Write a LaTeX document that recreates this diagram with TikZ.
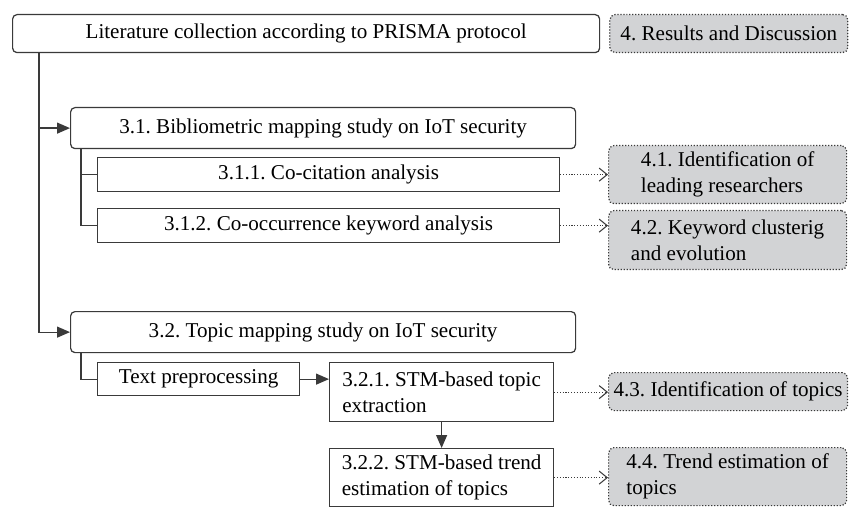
\documentclass[tikz,border=0pt]{standalone}
\usepackage{fontspec}
\setmainfont{Liberation Serif}
\usepackage{tikz}
\usetikzlibrary{arrows.meta, positioning, calc}
\frenchspacing
\definecolor{linegray}{HTML}{3A3A3A}
\definecolor{boxgray}{HTML}{D2D3D5}
\tikzstyle{block} = [rectangle, draw=linegray, line width=0.7pt, fill=white, align=left, inner sep=1mm, anchor=north west]
\tikzstyle{roundblock} = [block, rounded corners=2.5pt, align=center]
\tikzstyle{result} = [rectangle, rounded corners=3pt, draw=linegray, densely dotted, line width=0.7pt, fill=boxgray, align=left, inner sep=1mm, anchor=north west, minimum width=4.76cm]
\tikzstyle{arrow} = [draw=linegray, line width=0.7pt, -{Triangle[length=2.6mm, width=2.2mm]}]
\tikzstyle{line} = [draw=linegray, line width=0.7pt]
\tikzstyle{dotarrow} = [draw=linegray, line width=0.6pt, densely dotted, -{Straight Barb[length=1.6mm, width=2.6mm]}]

\begin{document}
\begin{tikzpicture}[every node/.style={font=\fontsize{12}{15}\selectfont}]
  \useasboundingbox (0,0) rectangle (17.04,-10.14);
  % Khung chính
  \node[roundblock, minimum width=11.74cm, minimum height=0.76cm] (lit) at (0.24,-0.28) {Literature collection according to PRISMA protocol};
  \node[result, minimum height=0.76cm, align=center, right=0.18cm of lit] (r4) {4. Results and Discussion};

  % Nhánh 3.1
  \node[roundblock, minimum width=10.10cm, minimum height=0.82cm] (b31) at (1.40,-2.14) {3.1. Bibliometric mapping study on IoT security};
  \node[block, align=center, minimum width=9.24cm, minimum height=0.68cm] (b311) at (1.94,-3.14) {3.1.1. Co-citation analysis};
  \node[block, align=center, minimum width=9.24cm, minimum height=0.68cm] (b312) at (1.94,-4.16) {3.1.2. Co-occurrence keyword analysis};
  \node[result, minimum height=1.16cm] (r41) at (12.16,-2.90) {4.1. Identification of\\leading researchers};
  \node[result, minimum height=1.18cm] (r42) at (12.16,-4.20) {4.2. Keyword clusterig\\and evolution};

  % Nhánh 3.2
  \node[roundblock, minimum width=10.10cm, minimum height=0.82cm] (b32) at (1.40,-6.22) {3.2. Topic mapping study on IoT security};
  \node[block, align=center, minimum width=4.04cm, minimum height=0.66cm] (tp) at (1.94,-7.24) {Text preprocessing};
  \node[block, minimum width=4.48cm, minimum height=1.18cm] (b321) at (6.58,-7.24) {3.2.1. STM-based topic\\extraction};
  \node[block, minimum width=4.48cm, minimum height=1.16cm] (b322) at (6.58,-8.96) {3.2.2. STM-based trend\\estimation of topics};
  \node[result, minimum height=0.76cm, align=center] (r43) at (12.16,-7.44) {4.3. Identification of topics};
  \node[result, minimum height=1.16cm] (r44) at (12.16,-8.94) {4.4. Trend estimation of\\topics};

  % Mũi tên trục chính
  \draw[arrow] ([xshift=0.54cm]lit.south west) |- (b31.west);
  \draw[arrow] ([xshift=0.54cm]lit.south west) |- (b32.west);

  % Nhánh con
  \draw[line] ([xshift=0.22cm]b31.south west) |- (b311.west);
  \draw[line] ([xshift=0.22cm]b31.south west) |- (b312.west);
  \draw[line] ([xshift=0.22cm]b32.south west) |- (tp.west);
  \draw[arrow] (tp.east) -- (tp.east -| b321.west);
  \draw[arrow] (b321) -- (b322);

  % Mũi tên chấm sang phần kết quả
  \draw[dotarrow] (b311.east) -- (b311.east -| r41.west);
  \draw[dotarrow] (b312.east) -- (b312.east -| r42.west);
  \draw[dotarrow] (b321.east) -- (b321.east -| r43.west);
  \draw[dotarrow] (b322.east) -- (b322.east -| r44.west);
\end{tikzpicture}
\end{document}
